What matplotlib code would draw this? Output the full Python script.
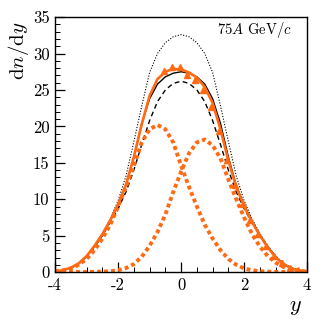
import numpy as np
import matplotlib
matplotlib.use("Agg")
import matplotlib.pyplot as plt
from matplotlib.ticker import MultipleLocator

plt.rcParams['font.family'] = 'cmr10'
plt.rcParams['mathtext.fontset'] = 'cm'
plt.rcParams['axes.unicode_minus'] = False

# rapidity grid for the curves
y_grid = [-4.0, -3.75, -3.5, -3.25, -3.0, -2.75, -2.5, -2.25, -2.0, -1.75, -1.5,
          -1.25, -1.0, -0.75, -0.5, -0.25, 0.0, 0.25, 0.5, 0.75, 1.0, 1.25,
          1.5, 1.75, 2.0, 2.25, 2.5, 2.75, 3.0, 3.25, 3.5, 3.75, 4.0]

# black curves (model predictions)
model_solid = [0.08, 0.22, 0.55, 1.15, 2.1, 3.5, 5.1, 7.0, 9.2, 11.9, 15.8,
               20.4, 23.8, 25.8, 26.8, 27.3, 27.5, 27.3, 26.8, 25.8, 23.8, 20.4,
               15.8, 11.9, 9.2, 7.0, 5.1, 3.5, 2.1, 1.15, 0.55, 0.22, 0.08]
model_dashed = [0.08, 0.22, 0.55, 1.15, 2.1, 3.4, 5.0, 6.8, 8.7, 11.0, 14.0,
                17.5, 20.8, 23.4, 25.0, 25.9, 26.2, 25.9, 25.0, 23.4, 20.8, 17.5,
                14.0, 11.0, 8.7, 6.8, 5.0, 3.4, 2.1, 1.15, 0.55, 0.22, 0.08]
model_dotted = [0.1, 0.25, 0.6, 1.2, 2.2, 3.6, 5.3, 7.3, 9.8, 13.2, 17.9,
                22.8, 27.4, 30.0, 31.5, 32.3, 32.6, 32.3, 31.5, 30.0, 27.4, 22.8,
                17.9, 13.2, 9.8, 7.3, 5.3, 3.6, 2.2, 1.2, 0.6, 0.25, 0.1]

# orange fit: sum and two components
fit_sum = [0.1, 0.25, 0.6, 1.2, 2.2, 3.6, 5.2, 7.1, 9.3, 12.0, 15.8,
           20.3, 24.2, 26.5, 27.5, 27.9, 27.8, 27.4, 26.7, 25.4, 23.2, 19.6,
           15.3, 11.7, 9.0, 6.9, 5.0, 3.4, 2.0, 1.1, 0.5, 0.2, 0.08]
fit_left = [0.12, 0.25, 0.5, 1.0, 1.8, 3.0, 4.6, 6.5, 9.0, 11.7, 14.6,
            17.8, 19.6, 20.2, 19.6, 17.8, 14.6, 11.7, 9.0, 6.5, 4.6, 3.0,
            1.8, 1.0, 0.5, 0.25, 0.12, 0.06, 0.03, 0.02, 0.01, 0.0, 0.0]
fit_right = [0.0, 0.0, 0.0, 0.01, 0.02, 0.03, 0.06, 0.12, 0.25, 0.55, 1.1,
             2.1, 3.6, 5.5, 7.9, 11.0, 13.8, 16.3, 17.8, 18.2, 17.4, 15.6,
             12.7, 10.0, 7.5, 5.2, 3.5, 2.2, 1.3, 0.7, 0.35, 0.17, 0.08]

# measured points
y_data = [-0.55, -0.3, -0.05, 0.2, 0.45, 0.7, 0.95, 1.2, 1.45,
          1.7, 1.95, 2.2, 2.45, 2.7, 2.95, 3.2, 3.45, 3.7]
dndy_data = [27.6, 28.1, 28.1, 27.1, 26.3, 25.0, 22.6, 19.4, 15.4,
             12.0, 9.4, 7.1, 5.2, 3.6, 2.2, 1.2, 0.6, 0.25]

orange = '#ff6a13'

fig = plt.figure(figsize=(3.24, 3.29), dpi=100)
ax = fig.add_axes([0.170, 0.173, 0.778, 0.775])

ax.plot(y_grid, model_dotted, color='black', lw=0.8, ls=(0, (1, 1.5)))
ax.plot(y_grid, model_dashed, color='black', lw=1.0, ls=(0, (3.5, 2.5)))
ax.plot(y_grid, model_solid, color='black', lw=1.0)
ax.plot(y_grid, fit_left, color=orange, lw=2.8, ls=(0, (1, 0.8)))
ax.plot(y_grid, fit_right, color=orange, lw=2.8, ls=(0, (1, 0.8)))
ax.plot(y_grid, fit_sum, color=orange, lw=1.9)
ax.plot(y_data, dndy_data, ls='none', marker='^', color=orange, ms=5.0)

ax.set_xlim(-4, 4)
ax.set_ylim(0, 35)
ax.xaxis.set_major_locator(MultipleLocator(2))
ax.xaxis.set_minor_locator(MultipleLocator(0.5))
ax.yaxis.set_major_locator(MultipleLocator(5))
ax.yaxis.set_minor_locator(MultipleLocator(1))
ax.tick_params(which='both', direction='in', top=False, right=False, labelsize=12)
ax.tick_params(which='major', length=7, width=0.9)
ax.tick_params(which='minor', length=3.5, width=0.7)
ax.tick_params(axis='x', pad=4)
ax.tick_params(axis='y', pad=4)
for s in ax.spines.values():
    s.set_linewidth(1.0)

fig.text(0.058, 0.935, r'$\mathrm{d}n/\mathrm{d}y$', rotation=90, ha='center', va='top', fontsize=15)
fig.text(0.913, 0.035, r'$y$', ha='center', va='bottom', fontsize=16)
ax.text(0.94, 0.99, r'$75A$ GeV$/c$', transform=ax.transAxes, ha='right', va='top', fontsize=10.5)

fig.savefig('out.png', dpi=100)
